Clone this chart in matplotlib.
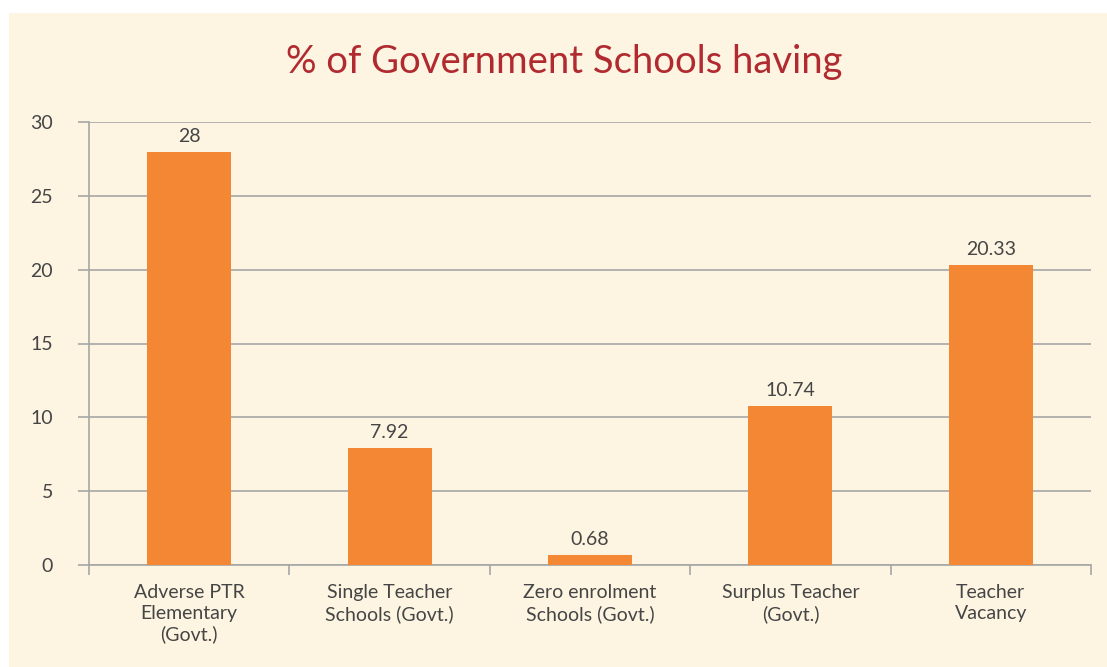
import matplotlib
matplotlib.use('Agg')
import matplotlib.pyplot as plt
from matplotlib.patches import Rectangle

categories = ['Adverse PTR\nElementary\n(Govt.)', 'Single Teacher\nSchools (Govt.)',
              'Zero enrolment\nSchools (Govt.)', 'Surplus Teacher\n(Govt.)',
              'Teacher\nVacancy']
values = [28, 7.92, 0.68, 10.74, 20.33]
value_labels = ['28', '7.92', '0.68', '10.74', '20.33']
yticks = [0, 5, 10, 15, 20, 25, 30]

bg = '#FDF5E2'
bar_color = '#F48733'
title_color = '#B02A30'
text_color = '#454545'
grid_color = '#A6A6A6'

plt.rcParams['font.family'] = ['Lato', 'DejaVu Sans']

fig = plt.figure(figsize=(11.07, 6.67), dpi=100)
fig.patch.set_facecolor('white')
fig.patches.append(Rectangle((9 / 1107, 0), 1, 1 - 13 / 667,
                             transform=fig.transFigure, facecolor=bg,
                             edgecolor='none', zorder=-10))

ax = fig.add_axes([89 / 1107, 1 - 565 / 667, 1002 / 1107, (565 - 122) / 667])
ax.set_facecolor('none')

x = list(range(len(values)))
ax.bar(x, values, width=0.42, color=bar_color, zorder=3)
for xi, v, lab in zip(x, values, value_labels):
    ax.annotate(lab, (xi, v), xytext=(0, 5), textcoords='offset points',
                ha='center', va='bottom', fontsize=14, color=text_color)

ax.set_xlim(-0.5, len(values) - 0.5)
ax.set_ylim(0, 30)
ax.set_yticks(yticks)
ax.yaxis.grid(True, color=grid_color, linewidth=1.2, zorder=0)
ax.set_axisbelow(True)

ax.set_xticks(x)
ax.set_xticklabels(categories, fontsize=14, color=text_color, linespacing=1.25)
ax.set_xticks([i - 0.5 for i in range(len(values) + 1)], minor=True)
ax.tick_params(axis='x', which='major', length=0, pad=14)
ax.tick_params(axis='x', which='minor', length=7, color=grid_color, width=1.2)
ax.tick_params(axis='y', length=8, color=grid_color, width=1.2, pad=18,
               labelsize=14, labelcolor=text_color)

for s in ['top', 'right']:
    ax.spines[s].set_visible(False)
for s in ['left', 'bottom']:
    ax.spines[s].set_color(grid_color)
    ax.spines[s].set_linewidth(1.2)

fig.text(564 / 1107, 1 - 62 / 667, '% of Government Schools having',
         ha='center', va='center', fontsize=27.5, color=title_color)

fig.savefig('out.png', dpi=100, facecolor=fig.get_facecolor())
